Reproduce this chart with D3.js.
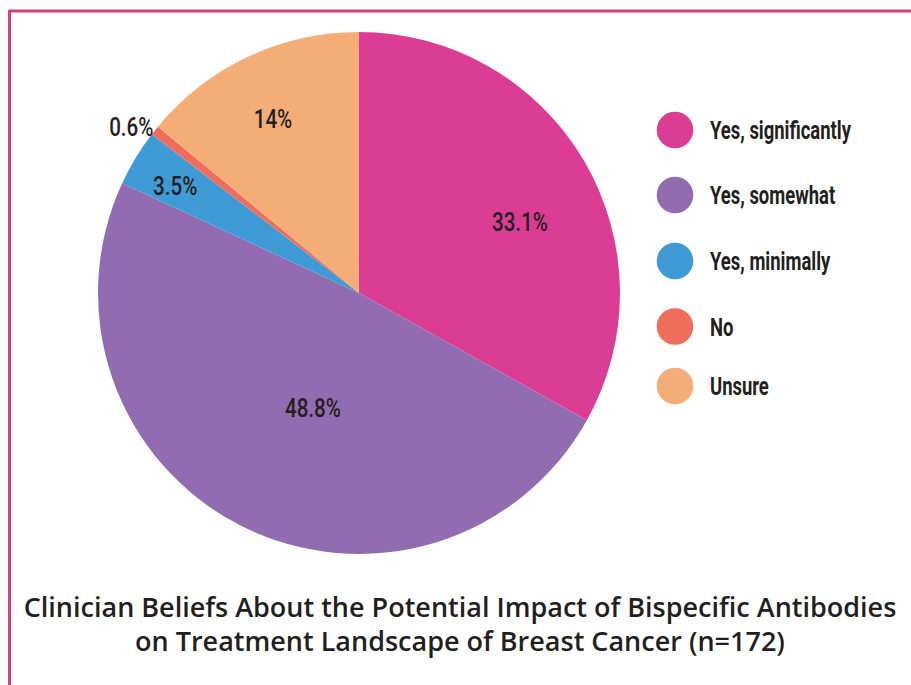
<!DOCTYPE html>
<html>
<head>
<meta charset="utf-8">
<script src="https://cdn.jsdelivr.net/npm/d3@7"></script>
<style>
body{margin:0;background:#fff;}
svg text{font-family:Roboto,"Noto Sans",sans-serif;fill:#231f20;}
</style>
</head>
<body>
<script>
var categories = ['Yes, significantly','Yes, somewhat','Yes, minimally','No','Unsure'];
var values = [33.1, 48.8, 3.5, 0.6, 14];
var labels = ['33.1%','48.8%','3.5%','0.6%','14%'];
var colors = ['#dc3d94','#916cb0','#3f9bd6','#ef6e5b','#f4ad77'];
// label placement: fraction of radius, and angle nudge in degrees
var labelPos = [0.674, 0.475, 0.815, 1.08, 0.744];
var labelTurn = [6.6, -5.2, -0.9, -2.4, -1.1];

var width = 911, height = 685, cx = 359, cy = 293, r = 261;
var svg = d3.select('body').append('svg').attr('width',width).attr('height',height);

// frame
svg.append('line').attr('x1',9).attr('y1',11).attr('x2',width).attr('y2',11).attr('stroke','#d0427f').attr('stroke-width',3);
svg.append('line').attr('x1',9.5).attr('y1',10).attr('x2',9.5).attr('y2',height).attr('stroke','#d0427f').attr('stroke-width',3);

var pie = d3.pie().sort(null).value(function(d){return d;});
var arcs = pie(values);
var arc = d3.arc().innerRadius(0).outerRadius(r);
var g = svg.append('g').attr('transform','translate('+cx+','+cy+')');
g.selectAll('path').data(arcs).enter().append('path')
 .attr('d',arc).attr('fill',function(d,i){return colors[i];});

// squeeze text horizontally to mimic the condensed face
function squeeze(sel, ref, target){
  var k = target/ref.node().getComputedTextLength();
  sel.each(function(){
    var t = d3.select(this), x = +t.attr('x')||0;
    t.attr('transform',(t.attr('transform')||'')+' translate('+x+',0) scale('+k+',1) translate('+(-x)+',0)');
  });
}

var lbl = g.selectAll('text.lbl').data(arcs).enter().append('text').attr('class','lbl')
 .attr('transform',function(d,i){
   var a = (d.startAngle+d.endAngle)/2 + labelTurn[i]*Math.PI/180, k = labelPos[i]*r;
   return 'translate('+(Math.sin(a)*k)+','+(-Math.cos(a)*k)+')';})
 .attr('text-anchor','middle').attr('dy','0.36em')
 .style('font-size','25px').style('font-weight','500')
 .text(function(d,i){return labels[i];});
squeeze(lbl, lbl.filter(function(d,i){return i==0;}), 56);

// legend
var leg = svg.append('g').attr('transform','translate(675,130)');
var legY = [0,65,131,196.5,256];
var items = leg.selectAll('g').data(categories).enter().append('g')
 .attr('transform',function(d,i){return 'translate(0,'+legY[i]+')';});
items.append('circle').attr('r',18.3).attr('fill',function(d,i){return colors[i];});
var lt = items.append('text').attr('x',35).attr('dy','0.36em').style('font-size','25.5px').style('font-weight','bold').text(function(d){return d;});
squeeze(lt, lt.filter(function(d,i){return i==0;}), 141);

// title
var title = ['Clinician Beliefs About the Potential Impact of Bispecific Antibodies','on Treatment Landscape of Breast Cancer (n=172)'];
svg.selectAll('text.title').data(title).enter().append('text').attr('class','title')
 .attr('x',460).attr('y',function(d,i){return 617+i*34;})
 .attr('text-anchor','middle')
 .style('font-family','"Open Sans",sans-serif').style('font-weight','600').style('font-size','27px')
 .text(function(d){return d;});
</script>
</body>
</html>
